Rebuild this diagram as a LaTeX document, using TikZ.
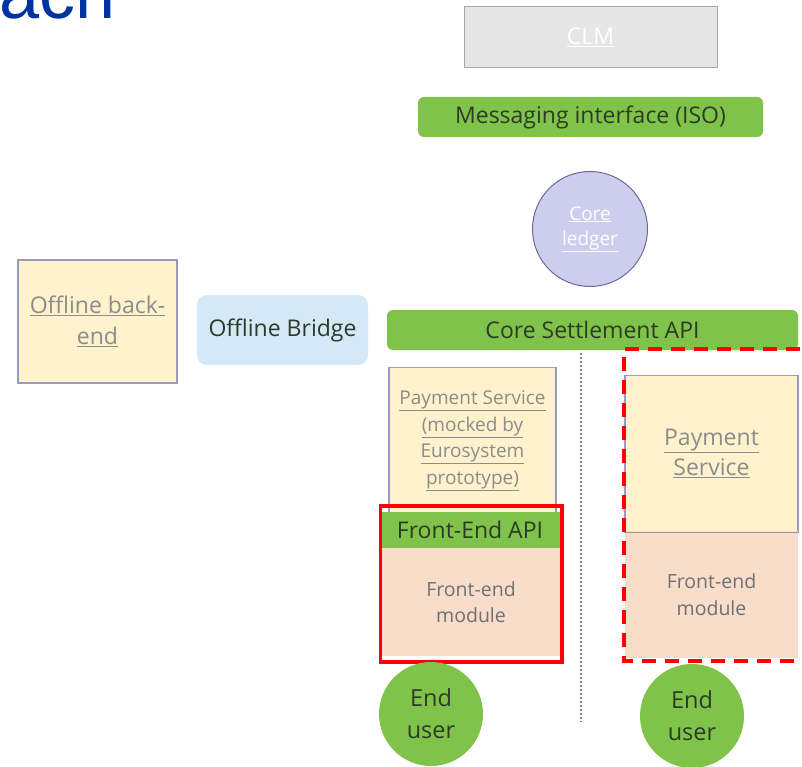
\documentclass[tikz,border=0pt]{standalone}
\usepackage{fontspec}
\setmainfont{Open Sans}
\newfontfamily\titlefont{Liberation Sans}
\usetikzlibrary{positioning}
\definecolor{apigreen}{HTML}{80C34A}
\definecolor{darktext}{HTML}{2E3A28}
\definecolor{paleyellow}{HTML}{FFF2CC}
\definecolor{boxborder}{HTML}{9A9AC0}
\definecolor{lavender}{HTML}{CDCDEE}
\definecolor{lavborder}{HTML}{6A6A9A}
\definecolor{peach}{HTML}{F8DDCB}
\definecolor{paleblue}{HTML}{D5E8F7}
\definecolor{graytext}{HTML}{8C8C8C}
\definecolor{clmgray}{HTML}{E6E6E6}
\definecolor{clmborder}{HTML}{A8A8A8}
\definecolor{titleblue}{HTML}{0033A0}
\tikzset{
  greenband/.style={fill=apigreen, draw=none, rounded corners=6pt, text=darktext, font=\fontsize{23}{27}\selectfont, inner sep=0pt},
  yellowbox/.style={fill=paleyellow, draw=boxborder, line width=1.2pt, text=graytext, align=center, inner sep=0pt},
  peachbox/.style={fill=peach, draw=none, text=graytext!80!black, align=center, inner sep=0pt},
  enduser/.style={circle, fill=apigreen, draw=none, minimum size=104pt, inner sep=0pt, text=darktext, align=center, font=\fontsize{23.5}{32}\selectfont},
  redframe/.style={draw=red, line width=3.5pt},
}
\begin{document}
\begin{tikzpicture}[x=1pt,y=-1pt]
\useasboundingbox (0,0) rectangle (802,767);
% title fragment
\node[anchor=base east, inner sep=0pt, text=titleblue, font=\titlefont\fontsize{72}{80}\selectfont] (title) at (116,19) {ach};
% CLM
\node[fill=clmgray, draw=clmborder, line width=1pt, minimum width=253pt, minimum height=61pt, inner sep=0pt, text=white, font=\fontsize{23}{27}\selectfont] (clm) at (590.5,37.5) {\underline{CLM}};
% Messaging interface
\node[greenband, minimum width=345pt, minimum height=40pt] (msg) at (590.5,117) {Messaging interface (ISO)};
% Core ledger
\node[circle, fill=lavender, draw=lavborder, line width=1pt, minimum size=115pt, inner sep=0pt, text=white, align=center, font=\fontsize{19}{25}\selectfont] (ledger) at (590,229) {\underline{Core}\\\underline{ledger}};
% Offline back-end
\node[yellowbox, minimum width=159pt, minimum height=123pt, font=\fontsize{23}{31}\selectfont] (obe) at (97.5,321.5) {\underline{Offline back-}\\\underline{end}};
% Offline Bridge
\node[fill=paleblue, draw=none, rounded corners=10pt, minimum width=171pt, minimum height=70pt, inner sep=0pt, text=darktext, font=\fontsize{23}{27}\selectfont] (bridge) at (282.5,330) {Offline Bridge};
% Core Settlement API
\node[greenband, minimum width=411pt, minimum height=40pt] (csa) at (592.5,330) {Core Settlement API};
% divider
\coordinate (divtop) at (581,353);
\coordinate (divbot) at (581,722);
\draw[gray, line width=1.2pt, dash pattern=on 1.5pt off 2.5pt] (divtop) -- (divbot);
% left column
\node[yellowbox, minimum width=167pt, minimum height=146pt, font=\fontsize{19}{26.5}\selectfont, anchor=north] (psleft) at (472.5,367) {\underline{Payment Service}\\\underline{(mocked by}\\\underline{Eurosystem}\\\underline{prototype)}};
\node[peachbox, minimum width=178pt, minimum height=108pt, anchor=north, font=\fontsize{19.5}{25.5}\selectfont] (feleft) at (471,548) {Front-end\\module};
\node[fill=apigreen, draw=none, minimum width=180pt, minimum height=36pt, inner sep=0pt, anchor=north, text=darktext, font=\fontsize{23}{27}\selectfont] (feapi) at (470,512) {Front-End API};
\draw[redframe] (380.5,506) rectangle (562,662);
% right column
\node[yellowbox, minimum width=173pt, minimum height=156pt, anchor=north, font=\fontsize{23}{30}\selectfont] (psright) at (711.5,375) {\underline{Payment}\\\underline{Service}};
\node[peachbox, minimum width=173pt, minimum height=127pt, anchor=north, font=\fontsize{19.5}{27}\selectfont] (feright) at (711.5,531) {Front-end\\module};
\draw[boxborder!70!brown, line width=1.2pt] (psright.south west) -- (psright.south east);
\draw[red, line width=4pt, dash pattern=on 14pt off 9pt] (800,349) -- (624,349) -- (624,661) -- (802,661);
% end users
\node[enduser] (user1) at (431,714) {End\\user};
\node[enduser] (user2) at (692,716) {End\\user};
\end{tikzpicture}
\end{document}
